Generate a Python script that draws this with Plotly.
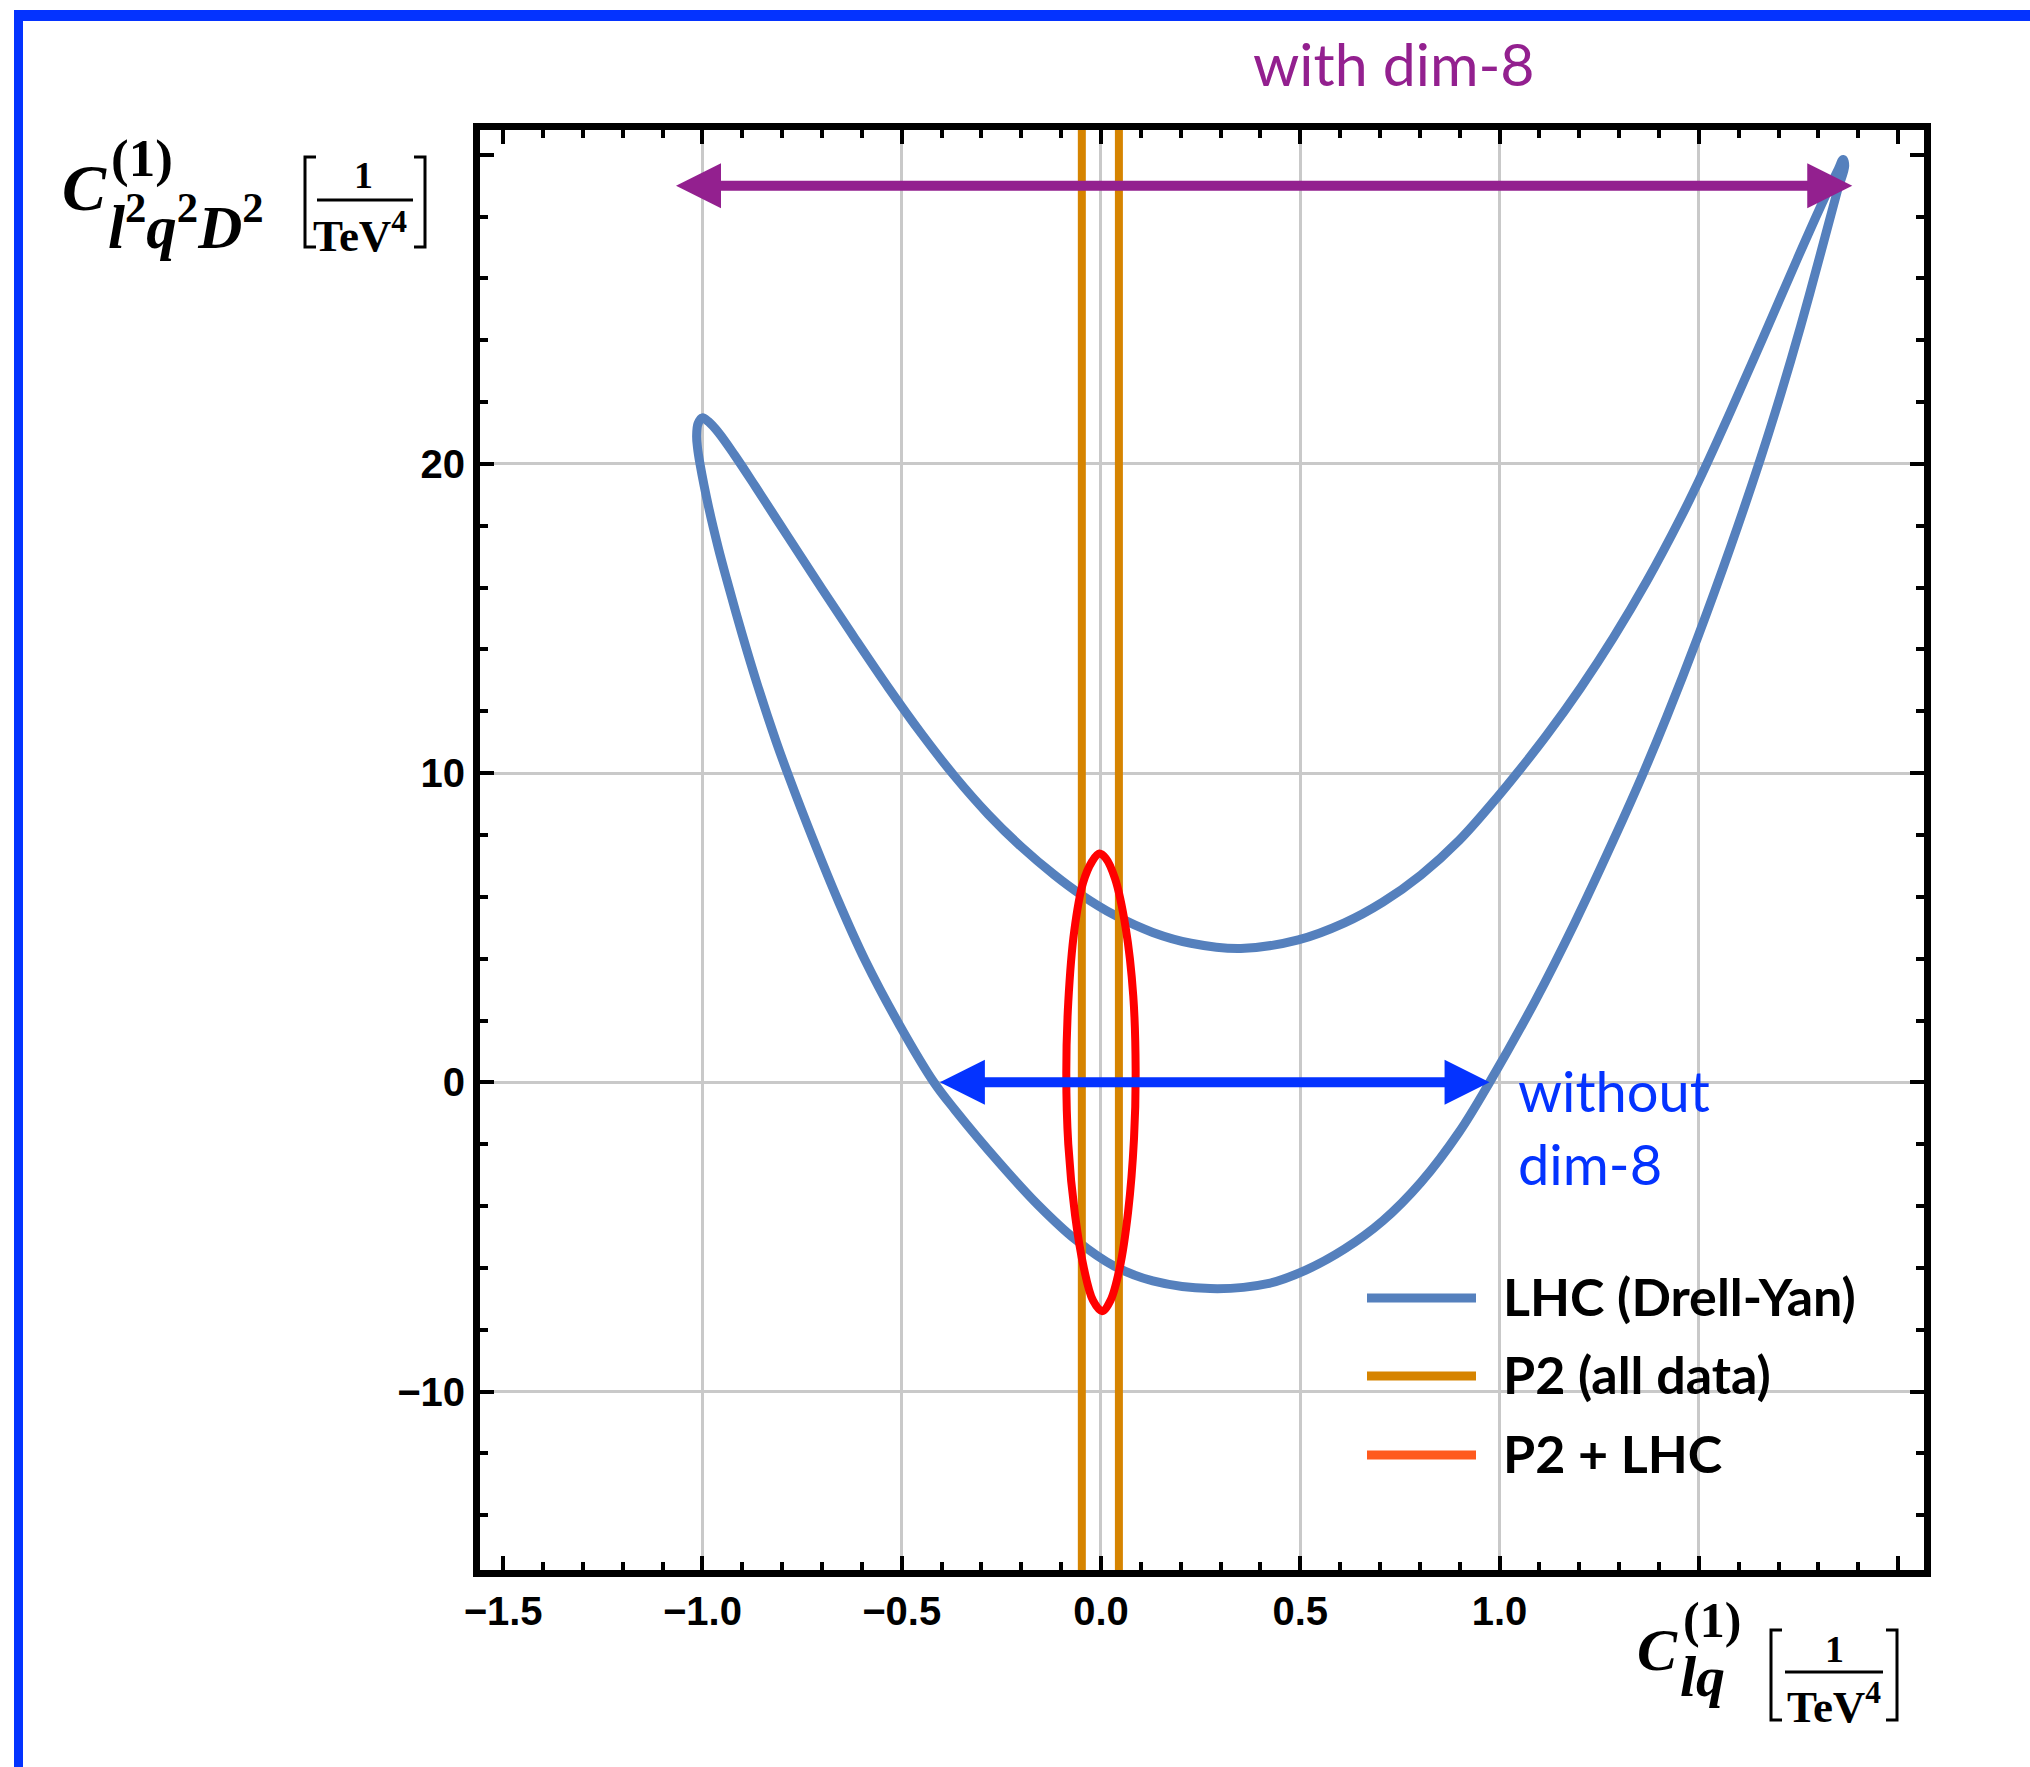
import plotly.graph_objects as go

# ---------------- data ----------------
# LHC (Drell-Yan) allowed region: closed contour in the (C_lq, C_l2q2D2) plane
lhc_x = [0.274, 0.418, 0.514, 0.611, 0.707, 0.803, 0.899, 0.975, 1.091, 1.188,
         1.286, 1.362, 1.420, 1.496, 1.580, 1.655, 1.705, 1.755, 1.806, 1.848,
         1.866, 1.862, 1.850, 1.814, 1.747, 1.663, 1.579, 1.513, 1.454, 1.370,
         1.286, 1.203, 1.119, 1.044, 0.995, 0.899, 0.803, 0.707, 0.611, 0.495,
         0.351, 0.226, 0.130, 0.034, -0.050, -0.117, -0.200, -0.283, -0.367, -0.450,
         -0.533, -0.617, -0.700, -0.783, -0.867, -0.920, -0.960, -0.985, -1.000, -1.011,
         -1.0145, -1.0125, -1.006, -0.984, -0.960, -0.940, -0.9005, -0.8631, -0.8144, -0.7834,
         -0.7248, -0.6578, -0.5918, -0.5053, -0.419, -0.367, -0.255, -0.159, -0.0625, 0.034,
         0.130, 0.274]
lhc_y = [-6.67, -6.51, -6.07, -5.39, -4.48, -3.23, -1.60, 0.00, 2.67, 5.14,
         7.84, 10.04, 11.84, 14.35, 17.33, 20.18, 22.23, 24.43, 26.83, 28.85,
         29.64, 29.85, 29.53, 28.56, 26.63, 24.14, 21.68, 19.81, 18.25, 16.22,
         14.39, 12.75, 11.24, 10.00, 9.23, 7.83, 6.71, 5.83, 5.16, 4.61,
         4.33, 4.50, 4.85, 5.41, 6.07, 6.71, 7.62, 8.67, 9.90, 11.27,
         12.76, 14.35, 15.96, 17.60, 19.27, 20.30, 21.02, 21.37, 21.49, 21.30,
         20.90, 20.55, 20.00, 18.58, 17.28, 16.31, 14.50, 12.90, 11.00, 9.90,
         7.94, 5.83, 3.95, 1.85, 0.00, -0.88, -2.60, -3.95, -5.10, -5.95,
         -6.42, -6.67]

# P2 + LHC combined region
comb_x = [0.087, 0.081, 0.062, 0.035, 0.012, -0.004, -0.022, -0.045, -0.067, -0.082,
          -0.087, -0.082, -0.065, -0.043, -0.020, 0.003, 0.024, 0.047, 0.068, 0.083,
          0.087]
comb_y = [0.4, 2.8, 5.0, 6.6, 7.25, 7.4, 7.15, 6.45, 4.9, 2.6,
          0.3, -2.0, -4.3, -6.0, -7.05, -7.4, -7.05, -6.0, -4.2, -1.8,
          0.4]

# P2 (all data) bounds on C_lq
p2_bounds = [-0.048, 0.045]

# C_lq intervals with and without the dim-8 operator
with_dim8 = [-1.07, 1.885]
with_dim8_level = 29.0
without_dim8 = [-0.408, 0.975]
without_dim8_level = 0.0

x_range = [-1.558, 2.065]
y_range = [-15.77, 30.8]
x_tick_vals = [-1.5, -1.0, -0.5, 0.0, 0.5, 1.0, 1.5, 2.0]
x_tick_text = ["\u22121.5", "\u22121.0", "\u22120.5", "0.0", "0.5", "1.0", "", ""]
x_grid_vals = [-1.0, -0.5, 0.0, 0.5, 1.0, 1.5]
y_tick_vals = [-10, 0, 10, 20, 30]
y_tick_text = ["\u221210", "0", "10", "20", ""]
y_grid_vals = [-10, 0, 10, 20]

series_names = ["LHC (Drell-Yan)", "P2 (all data)", "P2 + LHC"]
series_colors = ["#5580BD", "#D68400", "#FF5A1E"]
ellipse_color = "#FF0000"
purple = "#93208F"
bright_blue = "#0433FF"

# ---------------- layout helpers ----------------
W, H = 2030, 1767
ML, MR, MT, MB = 480, 106, 130, 197
PW, PH = W - ML - MR, H - MT - MB


def px(x):
    return (x - ML) / PW


def py(y):
    return (H - MB - y) / PH


SERIF = "Liberation Serif"
SANS = "Liberation Sans"
HUMAN = "Lato"

fig = go.Figure()

# LHC contour
fig.add_trace(go.Scatter(x=lhc_x, y=lhc_y, mode="lines",
                         line=dict(color=series_colors[0], width=9, shape="spline", smoothing=1.0),
                         hoverinfo="skip", showlegend=False))
# P2 vertical bounds
for b in p2_bounds:
    fig.add_trace(go.Scatter(x=[b, b], y=y_range, mode="lines",
                             line=dict(color=series_colors[1], width=8),
                             hoverinfo="skip", showlegend=False))
# combined ellipse
fig.add_trace(go.Scatter(x=comb_x, y=comb_y, mode="lines",
                         line=dict(color=ellipse_color, width=8, shape="spline", smoothing=1.0),
                         hoverinfo="skip", showlegend=False))
# placeholder trace so the framed overlay axes are drawn
fig.add_trace(go.Scatter(x=[None], y=[None], xaxis="x2", yaxis="y2",
                         showlegend=False, hoverinfo="skip"))

tickfont = dict(family=SANS, size=40, color="black", weight="bold")
frame = dict(showline=True, linewidth=7, linecolor="black", mirror="ticks",
             ticks="inside", ticklen=14, tickwidth=4, tickcolor="black",
             showgrid=False, zeroline=False, tickfont=tickfont, tickmode="array")

fig.update_layout(
    width=W, height=H,
    margin=dict(l=ML, r=MR, t=MT, b=MB, pad=0),
    paper_bgcolor="white", plot_bgcolor="white",
    xaxis=dict(range=x_range, tickmode="array", tickvals=x_grid_vals, showticklabels=False,
               ticks="", showgrid=True, gridcolor="#C9C9C9", gridwidth=2.5,
               zeroline=False, showline=False),
    yaxis=dict(range=y_range, tickmode="array", tickvals=y_grid_vals, showticklabels=False,
               ticks="", showgrid=True, gridcolor="#C9C9C9", gridwidth=2.5,
               zeroline=False, showline=False),
    xaxis2=dict(overlaying="x", anchor="y2", side="bottom", range=x_range,
                tickvals=x_tick_vals, ticktext=x_tick_text,
                minor=dict(ticks="inside", tickmode="linear", tick0=0, dtick=0.1,
                           ticklen=8, tickwidth=4, tickcolor="black", showgrid=False),
                **frame),
    yaxis2=dict(overlaying="y", anchor="x2", side="left", range=y_range,
                tickvals=y_tick_vals, ticktext=y_tick_text,
                minor=dict(ticks="inside", tickmode="linear", tick0=0, dtick=2,
                           ticklen=8, tickwidth=4, tickcolor="black", showgrid=False),
                **frame),
)

# double-headed interval arrows
for rng, lvl, col in [(with_dim8, with_dim8_level, purple),
                      (without_dim8, without_dim8_level, bright_blue)]:
    fig.add_annotation(x=rng[1], y=lvl, ax=rng[0], ay=lvl,
                       xref="x", yref="y", axref="x", ayref="y",
                       text="", showarrow=True, arrowside="end+start",
                       arrowhead=2, startarrowhead=2, arrowwidth=10,
                       arrowsize=0.9, startarrowsize=0.9, arrowcolor=col,
                       standoff=0, startstandoff=0)


def label(text, xp, yp, size, family, color="black", xanchor="center",
          weight="normal", style="normal", align="left"):
    fig.add_annotation(text=text, x=px(xp), y=py(yp), xref="paper", yref="paper",
                       showarrow=False, xanchor=xanchor, yanchor="middle", align=align,
                       font=dict(family=family, size=size, color=color,
                                 weight=weight, style=style))


def seg(x0, y0, x1, y1, color="black", width=3):
    fig.add_shape(type="line", xref="paper", yref="paper",
                  x0=px(x0), y0=py(y0), x1=px(x1), y1=py(y1),
                  line=dict(color=color, width=width))


def bracket(xv, xs, ytop, ybot):
    fig.add_shape(type="path", xref="paper", yref="paper",
                  path=f"M {px(xs)},{py(ytop)} L {px(xv)},{py(ytop)} "
                       f"L {px(xv)},{py(ybot)} L {px(xs)},{py(ybot)}",
                  line=dict(color="black", width=3))


# annotations text
label("with dim-8", 1394, 64, 59, HUMAN, color=purple)
label("without<br>dim-8", 1516, 1127, 56, HUMAN, color=bright_blue, xanchor="left")

# legend
for i, (name, col) in enumerate(zip(series_names, series_colors)):
    yy = [1298, 1376, 1455][i]
    seg(1367, yy, 1476, yy, color=col, width=9)
    label(name, 1501, yy - 2, 52, HUMAN, weight="bold", xanchor="left")

# y-axis title: C^(1)_{l2q2D2} [1/TeV^4]
label("C", 84, 188, 66, SERIF, weight="bold", style="italic")
label("(1)", 142, 158, 53, SERIF, weight="bold")
label("<i>l</i><sup>2</sup><i>q</i><sup>2</sup><i>D</i><sup>2</sup>", 106, 222, 61, SERIF,
      weight="bold", xanchor="left")
bracket(305, 316, 157, 247)
bracket(425, 414, 157, 247)
label("1", 363, 175, 38, SERIF, weight="bold")
seg(317, 200, 413, 200, width=3)
label("TeV<sup>4</sup>", 360, 233, 45, SERIF, weight="bold")

# x-axis title: C^(1)_{lq} [1/TeV^4]
label("C", 1657, 1650, 60, SERIF, weight="bold", style="italic")
label("(1)", 1712, 1620, 50, SERIF, weight="bold")
label("<i>lq</i>", 1702, 1676, 58, SERIF, weight="bold")
bracket(1771, 1782, 1630, 1720)
bracket(1897, 1886, 1630, 1720)
label("1", 1834, 1649, 38, SERIF, weight="bold")
seg(1785, 1672, 1883, 1672, width=3)
label("TeV<sup>4</sup>", 1834, 1703, 45, SERIF, weight="bold")

# outer blue frame (top and left edges)
seg(18.5, 10, 18.5, H + 20, color=bright_blue, width=9)
seg(14, 15.5, W + 20, 15.5, color=bright_blue, width=11)

fig.write_html("out.html")
